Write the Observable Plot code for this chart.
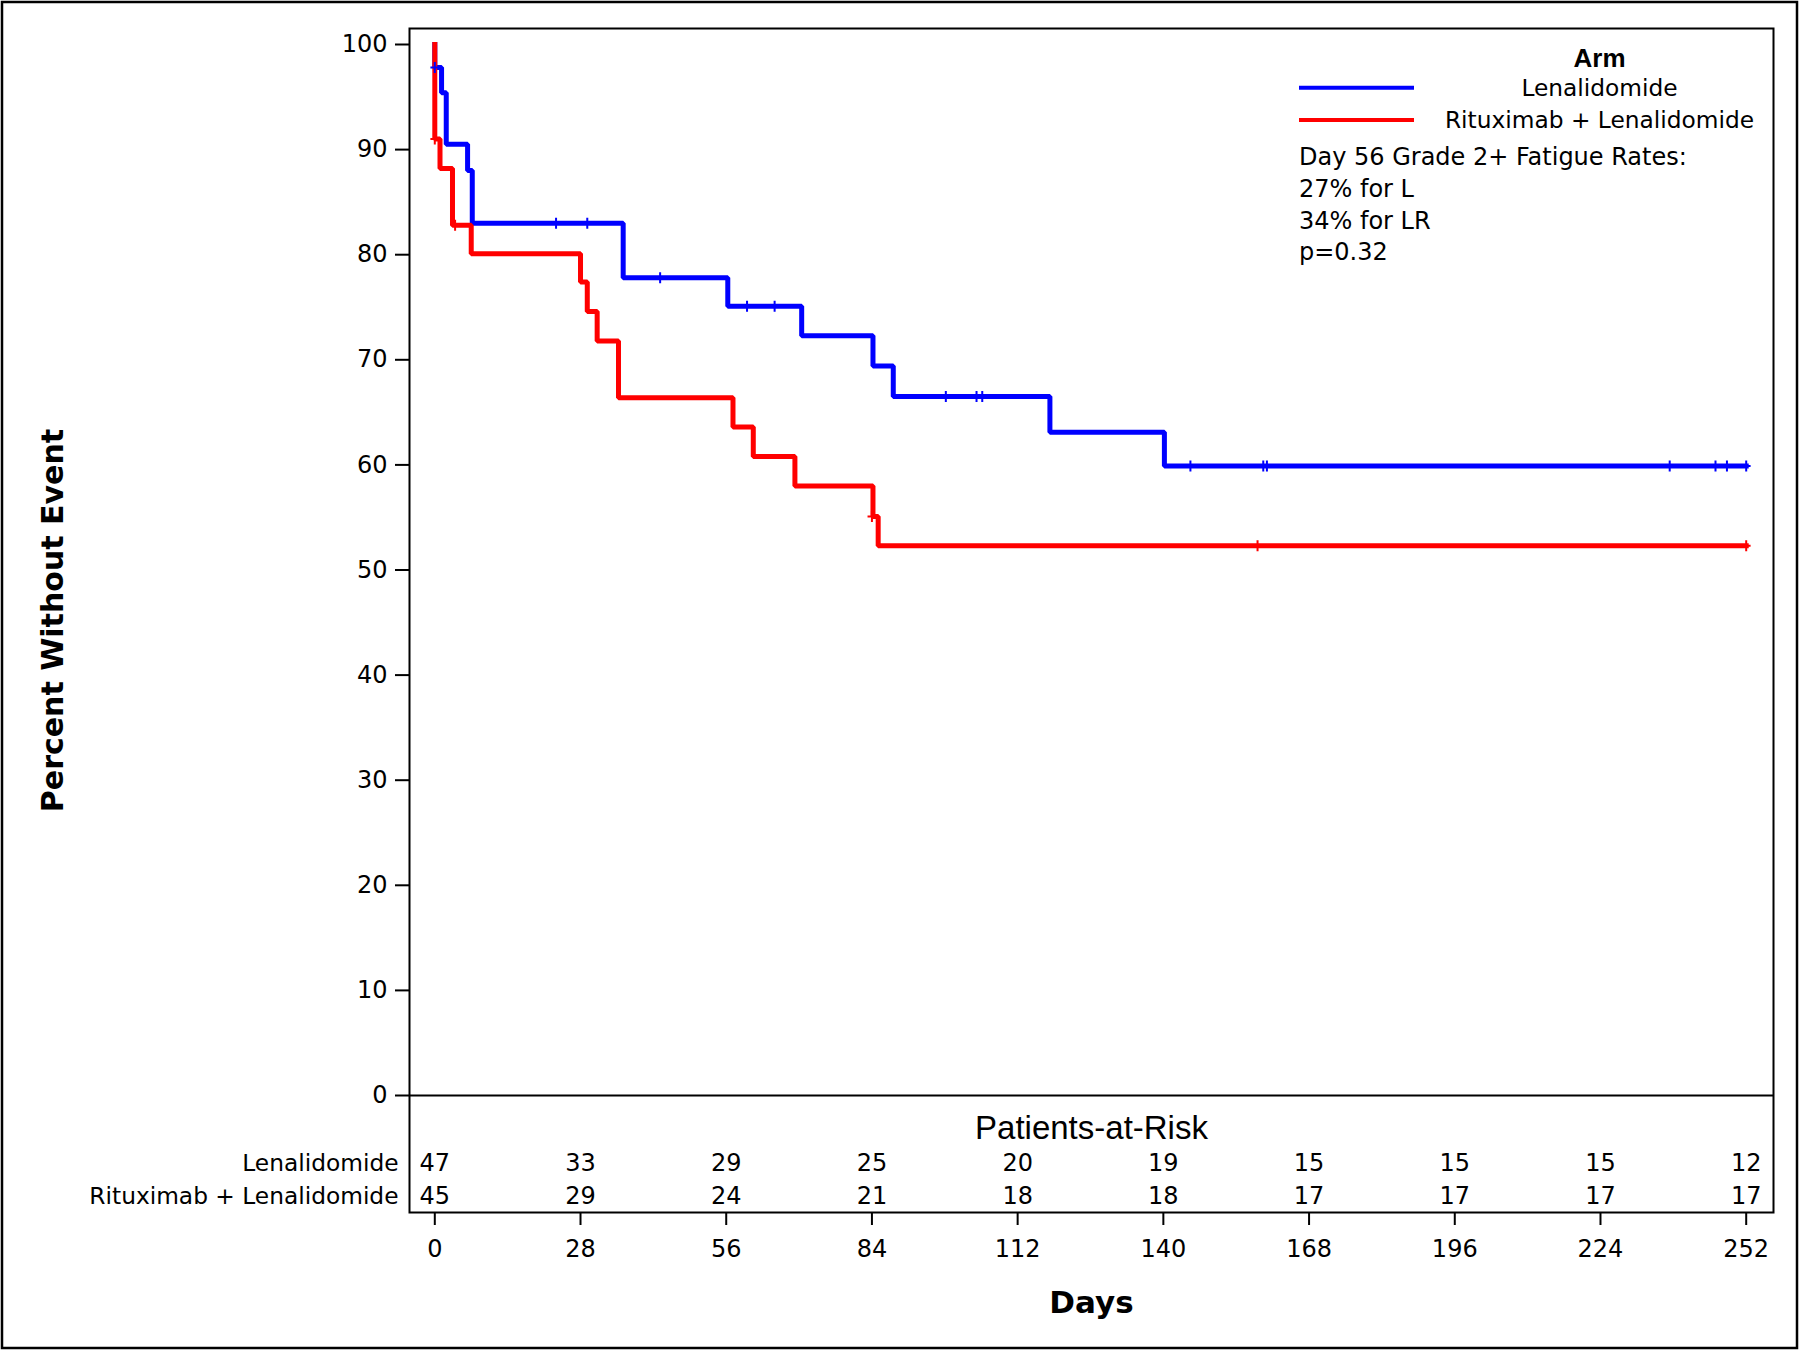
<!DOCTYPE html>
<html><head><meta charset="utf-8">
<script src="https://cdn.jsdelivr.net/npm/d3@7"></script>
<script src="https://cdn.jsdelivr.net/npm/@observablehq/plot@0.6"></script>
<style>
html,body{margin:0;padding:0;background:#fff}
svg{display:block}
</style>
</head><body><div id="chart"></div>
<script>
// ---- Data ----
const arms = ["Lenalidomide", "Rituximab + Lenalidomide"];
const armColors = ["#0000ff", "#ff0000"];

// Kaplan-Meier step vertices (days, percent without event)
const lenTimes = [0, 0, 1.3, 2.2, 6.3, 7.2, 36.2, 56.3, 70.5, 84.2, 88.1, 118.2, 140.2, 252];
const lenSurv  = [100, 97.8, 95.4, 90.5, 88.0, 83.0, 77.8, 75.1, 72.3, 69.4, 66.5, 63.1, 59.9, 59.9];
const lenCensorTimes = [0, 23.3, 29.3, 43.3, 60.0, 65.3, 98.2, 104.1, 105.2, 145.2, 159.2, 159.9, 237.3, 246.1, 248.3, 252];
const lenCensorSurv  = [97.8, 83.0, 83.0, 77.8, 75.1, 75.1, 66.5, 66.5, 66.5, 59.9, 59.9, 59.9, 59.9, 59.9, 59.9, 59.9];

const rlTimes = [0, 0, 1.0, 3.4, 7.0, 28.0, 29.3, 31.2, 35.3, 57.3, 61.2, 69.2, 84.2, 85.2, 252];
const rlSurv  = [100, 91.0, 88.2, 82.8, 80.1, 77.4, 74.6, 71.8, 66.4, 63.6, 60.8, 58.0, 55.1, 52.3, 52.3];
const rlCensorTimes = [0, 3.9, 84.0, 158.1, 252];
const rlCensorSurv  = [91.0, 82.8, 55.1, 52.3, 52.3];

// Patients-at-risk table
const riskDays = [0, 28, 56, 84, 112, 140, 168, 196, 224, 252];
const riskLen  = [47, 33, 29, 25, 20, 19, 15, 15, 15, 12];
const riskRL   = [45, 29, 24, 21, 18, 18, 17, 17, 17, 17];

const xTicks = [0, 28, 56, 84, 112, 140, 168, 196, 224, 252];
const yTicks = [0, 10, 20, 30, 40, 50, 60, 70, 80, 90, 100];

const legendTitle = "Arm";
const noteLines = ["Day 56 Grade 2+ Fatigue Rates:", "27% for L", "34% for LR", "p=0.32"];

// ---- Build tables ----
const curve = (times, surv, arm) => times.map((t, i) => ({t, s: surv[i], arm}));
const curves = [...curve(lenTimes, lenSurv, arms[0]), ...curve(rlTimes, rlSurv, arms[1])];
const censors = [...curve(lenCensorTimes, lenCensorSurv, arms[0]), ...curve(rlCensorTimes, rlCensorSurv, arms[1])];

const censorSymbol = {
  draw(ctx, size) {
    const r = Math.sqrt(size / Math.PI);
    ctx.moveTo(0, -r); ctx.lineTo(0, r);
    ctx.moveTo(-r * 0.8, 0); ctx.lineTo(r * 0.8, 0);
  }
};

const FONT = "DejaVu Sans";
const FS = 24;
const FS_ARM = 23.3;

const plot = Plot.plot({
  width: 1800,
  height: 1350,
  marginLeft: 409,
  marginRight: 27,
  marginTop: 28,
  marginBottom: 138,
  style: {fontFamily: FONT, fontSize: FS + "px", color: "#000", background: "#fff", overflow: "visible"},
  x: {domain: [0, 252], range: [434.3, 1745.7]},
  y: {domain: [0, 100], range: [1095, 44]},
  color: {domain: arms, range: armColors},
  marks: [
    Plot.frame({stroke: "#000", strokeWidth: 2}),
    Plot.ruleY([0], {stroke: "#000", strokeWidth: 2}),
    Plot.axisY({ticks: yTicks, tickSize: 14, tickPadding: 8, fontSize: FS, label: null, strokeWidth: 2}),
    Plot.axisX({ticks: xTicks, tickSize: 13, tickPadding: 14, fontSize: FS, label: null, strokeWidth: 2}),
    Plot.line(curves, {x: "t", y: "s", z: "arm", stroke: "arm", strokeWidth: 5, curve: "step-after", strokeLinejoin: "miter", strokeLinecap: "square"}),
    Plot.dot(censors, {x: "t", y: "s", stroke: "arm", strokeWidth: 2, r: 5.5, symbol: censorSymbol, fill: "none"}),
    // Axis titles
    Plot.text(["Percent Without Event"], {text: d => d, frameAnchor: "left", textAnchor: "middle", lineAnchor: "middle", dx: -356, rotate: -90, fontSize: 30, fontWeight: "bold"}),
    Plot.text(["Days"], {text: d => d, frameAnchor: "bottom", textAnchor: "middle", lineAnchor: "middle", dy: 91, fontSize: 31, fontWeight: "bold"}),
    // Risk table
    Plot.text(["Patients-at-Risk"], {text: d => d, frameAnchor: "bottom", textAnchor: "middle", lineAnchor: "middle", dy: -84, fontSize: 33, fontFamily: "Liberation Sans"}),
    Plot.text(riskDays, {x: d => d, text: (d, i) => String(riskLen[i]), frameAnchor: "bottom", lineAnchor: "middle", dy: -49, fontSize: FS}),
    Plot.text(riskDays, {x: d => d, text: (d, i) => String(riskRL[i]), frameAnchor: "bottom", lineAnchor: "middle", dy: -16, fontSize: FS}),
    Plot.text([arms[0]], {text: d => d, frameAnchor: "bottom-left", textAnchor: "end", lineAnchor: "middle", dx: -11, dy: -49, fontSize: FS_ARM}),
    Plot.text([arms[1]], {text: d => d, frameAnchor: "bottom-left", textAnchor: "end", lineAnchor: "middle", dx: -11, dy: -16, fontSize: FS_ARM}),
    // Legend title & entries (anchored to top-right of frame)
    Plot.text([legendTitle], {text: d => d, frameAnchor: "top-right", textAnchor: "middle", lineAnchor: "middle", dx: -174, dy: 30, fontSize: 26, fontWeight: "bold", fontFamily: "Liberation Sans"}),
    Plot.text([arms[0]], {text: d => d, frameAnchor: "top-right", textAnchor: "middle", lineAnchor: "middle", dx: -174, dy: 59.7, fontSize: FS_ARM}),
    Plot.text([arms[1]], {text: d => d, frameAnchor: "top-right", textAnchor: "middle", lineAnchor: "middle", dx: -174, dy: 92, fontSize: FS_ARM})
  ]
});

document.getElementById("chart").appendChild(plot);

// Legend swatches and note text, plus outer border (decorations)
const svg = d3.select(plot);
const g = svg.append("g").attr("text-anchor", "start");
armColors.forEach((c, i) => {
  g.append("line").attr("x1", 1299).attr("x2", 1414)
    .attr("y1", 87.7 + i * 32.3).attr("y2", 87.7 + i * 32.3)
    .attr("stroke", c).attr("stroke-width", 4);
});
noteLines.forEach((t, i) => {
  g.append("text").attr("x", 1299).attr("y", 156.7 + i * 31.7)
    .attr("dy", "0.35em").attr("font-size", FS).attr("font-family", FONT)
    .attr("text-anchor", "start").attr("fill", "#000").text(t);
});
svg.append("rect").attr("x", 2).attr("y", 2).attr("width", 1795).attr("height", 1346)
  .attr("fill", "none").attr("stroke", "#000").attr("stroke-width", 2.5);
</script>
</body></html>
